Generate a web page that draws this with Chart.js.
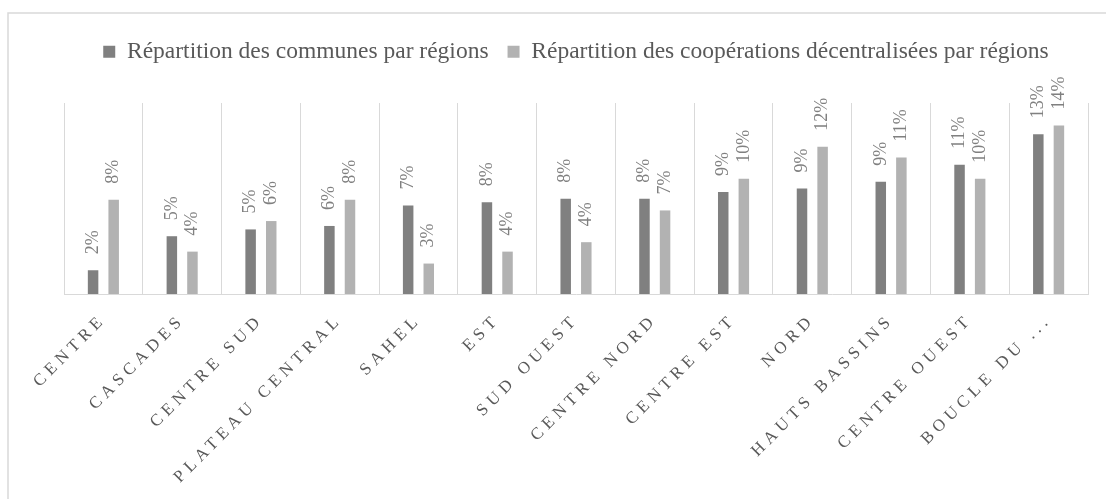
<!DOCTYPE html>
<html lang="fr">
<head>
<meta charset="utf-8">
<title>Répartition par régions</title>
<script src="https://cdn.jsdelivr.net/npm/chart.js@4/dist/chart.umd.min.js"></script>
<style>
  html, body { margin: 0; padding: 0; background: #fff; }
  #wrap { width: 1106px; height: 499px; position: relative; }
</style>
</head>
<body>
<div id="wrap"><canvas id="regions-chart"></canvas></div>
<script>
// Régions (libellés de l'axe)
const regions = [
    'CENTRE', 'CASCADES', 'CENTRE SUD', 'PLATEAU CENTRAL', 'SAHEL', 'EST',
    'SUD OUEST', 'CENTRE NORD', 'CENTRE EST', 'NORD', 'HAUTS BASSINS',
    'CENTRE OUEST', 'BOUCLE DU ...'
];

// Parts en %
const communes = [1.99, 4.84, 5.41, 5.70, 7.41, 7.69, 7.98, 7.98, 8.55, 8.83, 9.40, 10.83, 13.39];
const cooperations = [7.90, 3.55, 6.11, 7.90, 2.55, 3.55, 4.34, 7.00, 9.66, 12.33, 11.43, 9.66, 14.12];

const seriesNames = [
    'Répartition des communes par régions',
    'Répartition des coopérations décentralisées par régions'
];

const SERIF = '"Liberation Serif", "DejaVu Serif", serif';
const TEXT_DARK = '#595959';
const LINE_GRAY = '#d9d9d9';

// Extra room under the legend
const legendSpacing = {
    id: 'legendSpacing',
    beforeInit(chart) {
        const fit = chart.legend.fit;
        chart.legend.fit = function () {
            fit.bind(chart.legend)();
            this.height += 29.5;
        };
    }
};

// Light frame around the whole figure
const frame = {
    id: 'frame',
    beforeDraw(chart) {
        const ctx = chart.ctx;
        ctx.save();
        ctx.strokeStyle = LINE_GRAY;
        ctx.lineWidth = 1.5;
        ctx.strokeRect(8, 13, chart.width + 20, chart.height + 20);
        ctx.restore();
    }
};

// Tracked capitals on the category axis
const spacedTicks = {
    id: 'spacedTicks',
    beforeDraw(chart) {
        const xs = chart.scales.x;
        if (xs._spaced) { return; }
        const drawLabels = xs.drawLabels;
        xs.drawLabels = function (area) {
            this.ctx.save();
            this.ctx.letterSpacing = '4.8px';
            drawLabels.call(this, area);
            this.ctx.restore();
        };
        xs._spaced = true;
    }
};

// Vertical percentage labels above each bar
const valueLabels = {
    id: 'valueLabels',
    afterDatasetsDraw(chart) {
        const ctx = chart.ctx;
        ctx.save();
        ctx.font = '18px ' + SERIF;
        ctx.fillStyle = '#808080';
        ctx.textAlign = 'left';
        ctx.textBaseline = 'middle';
        chart.data.datasets.forEach((ds, i) => {
            chart.getDatasetMeta(i).data.forEach((bar, j) => {
                ctx.save();
                ctx.translate(bar.x, bar.y - 16);
                ctx.rotate(-Math.PI / 2);
                ctx.fillText(Math.round(ds.data[j]) + '%', 0, 0);
                ctx.restore();
            });
        });
        ctx.restore();
    }
};

const ctx = document.getElementById('regions-chart').getContext('2d');

new Chart(ctx, {
    type: 'bar',
    data: {
        labels: regions,
        datasets: [
            {
                label: seriesNames[0],
                data: communes,
                backgroundColor: '#808080',
                categoryPercentage: 0.523,
                barPercentage: 0.51,
            },
            {
                label: seriesNames[1],
                data: cooperations,
                backgroundColor: '#b2b2b2',
                categoryPercentage: 0.523,
                barPercentage: 0.51,
            }
        ]
    },
    options: {
        responsive: true,
        maintainAspectRatio: false,
        animation: false,
        layout: {
            padding: { top: 21, left: 64, right: 18, bottom: 0 }
        },
        plugins: {
            legend: {
                position: 'top',
                labels: {
                    color: TEXT_DARK,
                    font: { family: SERIF, size: 23.5 },
                    boxWidth: 12,
                    boxHeight: 12,
                    padding: 19,
                }
            },
            tooltip: { enabled: false }
        },
        scales: {
            x: {
                grid: {
                    color: LINE_GRAY,
                    offset: true,
                    drawTicks: false,
                },
                border: { color: LINE_GRAY },
                ticks: {
                    color: TEXT_DARK,
                    font: { family: SERIF, size: 17 },
                    autoSkip: false,
                    minRotation: 45,
                    maxRotation: 45,
                    padding: 16,
                },
                afterFit(scale) {
                    scale.height = 205;
                }
            },
            y: {
                display: false,
                min: 0,
                max: 16,
            }
        }
    },
    plugins: [legendSpacing, frame, spacedTicks, valueLabels]
});
</script>
</body>
</html>
